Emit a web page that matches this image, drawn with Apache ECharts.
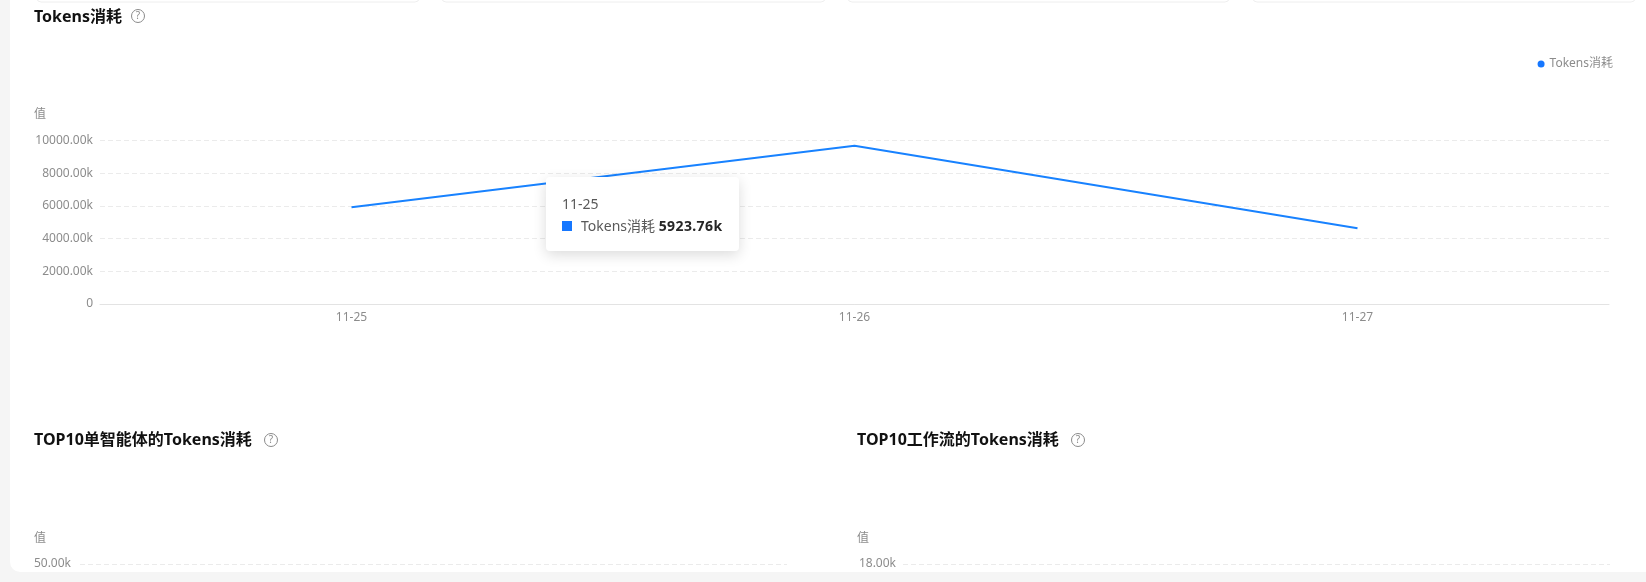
<!DOCTYPE html>
<html>
<head>
<meta charset="utf-8">
<style>
html,body{margin:0;padding:0;width:1646px;height:582px;overflow:hidden;background:#f5f5f5}
#card{position:absolute;left:10px;top:-12px;width:1636px;height:584px;background:#fff;border-radius:0 0 0 10px}
#chart{position:absolute;left:0;top:0;width:1646px;height:582px}
</style>
<script src="https://cdn.jsdelivr.net/npm/echarts@6/dist/echarts.min.js"></script>
</head>
<body>
<div id="card"></div>
<div id="chart"></div>
<script>
const categories = ['11-25', '11-26', '11-27'];
const tokensValues = [5923.76, 9680, 4630];
const seriesName = 'Tokens消耗';
const titles = ['Tokens消耗', 'TOP10单智能体的Tokens消耗', 'TOP10工作流的Tokens消耗'];
const agentAxisMax = 50, agentAxisStep = 10;
const flowAxisMax = 18, flowAxisStep = 3;
const mainAxisMax = 10000, mainAxisStep = 2000;

const FONT = '"Noto Sans","Noto Sans CJK SC",sans-serif';
const GREY = '#8c8c8c';
const fmtK = v => v === 0 ? '0' : v.toFixed(2) + 'k';

function yAxis(gridIndex, max, step, namePad, labelMargin) {
  return {
    gridIndex, type: 'value', min: 0, max, interval: step,
    name: '值',
    nameLocation: 'end',
    nameGap: 19.5,
    nameTextStyle: { color: GREY, fontSize: 12, fontFamily: FONT, align: 'right', padding: [0, namePad, 0, 0] },
    axisLine: { show: false }, axisTick: { show: false },
    axisLabel: { color: GREY, fontSize: 12, fontFamily: FONT, margin: labelMargin, verticalAlign: 'middle', lineHeight: 12, formatter: fmtK, padding: [0, 0, 7, 0] },
    splitLine: { lineStyle: { color: '#ebebeb', type: [5, 3], width: 1 } }
  };
}
function xAxis(gridIndex, data) {
  return {
    gridIndex, type: 'category', data, boundaryGap: true,
    axisLine: { lineStyle: { color: '#e3e3e3', width: 1 } },
    axisTick: { alignWithLabel: true, length: 5, lineStyle: { color: '#e3e3e3' } },
    axisLabel: { color: GREY, fontSize: 12, fontFamily: FONT, margin: 8 }
  };
}
function helpIcon(cx, cy) {
  return {
    type: 'group', x: cx, y: cy, silent: true,
    children: [
      { type: 'circle', shape: { cx: 0, cy: 0, r: 6.5 }, style: { fill: 'none', stroke: '#8a8a8a', lineWidth: 1 } },
      { type: 'text', style: { x: 0, y: 0, text: '?', fill: '#8a8a8a', font: '10px ' + FONT, textAlign: 'center', textVerticalAlign: 'middle' } }
    ]
  };
}
function strip(x, w) {
  return { type: 'rect', silent: true, shape: { x, y: -8, width: w, height: 10, r: 4 }, style: { fill: '#fff', stroke: '#eeeeee', lineWidth: 1 } };
}

const chart = echarts.init(document.getElementById('chart'), null, { renderer: 'canvas' });
chart.setOption({
  animation: false,
  backgroundColor: 'transparent',
  title: [
    { text: titles[0], left: 34, top: 5 },
    { text: titles[1], left: 34, top: 428 },
    { text: titles[2], left: 857, top: 428 }
  ].map(t => ({ ...t, padding: 0, textStyle: { color: '#111111', fontSize: 16, fontWeight: 'bold', fontFamily: FONT, lineHeight: 24 } })),
  legend: {
    data: [{ name: seriesName, icon: 'circle' }],
    right: 28, top: 53, itemWidth: 7, itemHeight: 7, itemGap: 6,
    textStyle: { color: GREY, fontSize: 12, fontFamily: FONT, padding: [0, 0, 0, 0] }
  },
  grid: [
    { left: 100, width: 1509, top: 140.5, height: 163.5, outerBoundsMode: 'none' },
    { left: 80, width: 707, top: 564, height: 163.5, outerBoundsMode: 'none' },
    { left: 903, width: 707, top: 564, height: 163.5, outerBoundsMode: 'none' }
  ],
  xAxis: [xAxis(0, categories), xAxis(1, []), xAxis(2, [])],
  yAxis: [
    yAxis(0, mainAxisMax, mainAxisStep, 54, 7),
    yAxis(1, agentAxisMax, agentAxisStep, 34, 9),
    yAxis(2, flowAxisMax, flowAxisStep, 34, 7)
  ],
  tooltip: {
    trigger: 'axis',
    alwaysShowContent: true,
    triggerOn: 'none',
    axisPointer: { type: 'none' },
    backgroundColor: '#fff',
    borderWidth: 0,
    borderRadius: 4,
    padding: 0,
    extraCssText: 'box-shadow:0 4px 14px rgba(0,0,0,0.14);width:193px;height:74px;box-sizing:border-box;padding:16px 16px;',
    position: () => [546, 177],
    textStyle: { color: '#555', fontSize: 14, fontFamily: FONT },
    formatter: params => {
      const p = params[0];
      return '<div style="line-height:22px;color:#595959">' + p.name + '</div>' +
        '<div style="line-height:22px;white-space:nowrap;color:#595959">' +
        '<span style="display:inline-block;width:10px;height:10px;background:' + p.color + ';margin-right:9px"></span>' +
        p.seriesName + ' <b style="color:#262626;letter-spacing:.4px">' + p.value.toFixed(2) + 'k</b></div>';
    }
  },
  series: [{
    name: seriesName, type: 'line', xAxisIndex: 0, yAxisIndex: 0,
    data: tokensValues, showSymbol: false, symbol: 'none',
    lineStyle: { color: '#1677ff', width: 2 }, itemStyle: { color: '#1677ff' }
  }],
  graphic: [
    strip(37, 382), strip(442, 383), strip(848, 381), strip(1253, 382),
    helpIcon(138, 16), helpIcon(271, 440), helpIcon(1078, 440)
  ]
});
chart.dispatchAction({ type: 'showTip', seriesIndex: 0, dataIndex: 0 });
</script>
</body>
</html>
